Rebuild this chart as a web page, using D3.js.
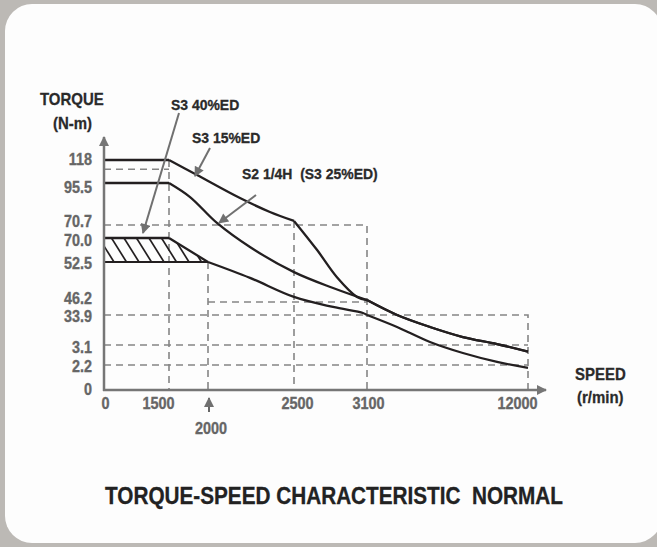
<!DOCTYPE html>
<html><head><meta charset="utf-8">
<script src="https://cdn.jsdelivr.net/npm/d3@7"></script>
<style>body{margin:0;background:#bcb9b5;} svg{display:block}</style>
</head><body><svg id="c" width="657" height="547"></svg>
<script>
// ---------- DATA ----------
const speedTicks = [0, 1500, 2500, 3100, 12000];
const speedMarker = 2000;
const torqueTicks = [0, 2.2, 3.1, 33.9, 46.2, 52.5, 70.0, 70.7, 95.5, 118];
const torqueTickLabels = ["0", "2.2", "3.1", "33.9", "46.2", "52.5", "70.0", "70.7", "95.5", "118"];

// S3 15%ED curve (speed r/min, torque N-m)
const s3_15 = [[0,118],[1500,118],[1860,103.3],[2186,86.6],[2360,78.4],[2500,73.1],[2690,61.2],[2853,50.1],[3018,47.0],[3100,46.5],[4760,33.9],[6580,21.6],[8400,11.3],[10290,4.1],[12000,2.8]];
const s3_15Corners = [1500, 2500, 3100];
// S2 1/4H (S3 25%ED)
const s2_quarter = [[0,95.5],[1500,95.5],[1770,87.2],[2052,71.9],[2244,63.4],[2500,50.9],[2821,48.4],[3100,46.5],[4760,33.9],[6580,21.6],[8400,11.3],[10290,4.1],[12000,2.8]];
const s2Corners = [1500, 3100];
// S3 40%ED
const s3_40 = [[0,70],[1500,70],[2000,52.5],[2244,50.0],[2500,47.0],[2821,41.5],[3067,35.8],[3100,33.9],[4760,21.6],[6580,6.2],[8400,2.74],[10290,2.34],[12000,1.94]];
const s3_40Corners = [1500, 2000, 3100];
// hatched (continuous) region
const hatchRegion = [[0,70],[1500,70],[2000,52.5],[0,52.5]];
// dashed guide lines
const guides = [
  [[0,109],[1500,109]],
  [[1500,118],[1500,0]],
  [[0,70.7],[3100,70.7],[3100,0]],
  [[2500,73.1],[2500,0]],
  [[2000,52.5],[2000,0]],
  [[2000,46.2],[3100,46.2]],
  [[0,33.9],[12000,33.9],[12000,0]],
  [[0,3.1],[12000,3.1]],
  [[0,2.2],[12000,2.2]]
];
const annotations = ["S3 40%ED", "S3 15%ED", "S2 1/4H  (S3 25%ED)"];
const chartTitle = "TORQUE-SPEED CHARACTERISTIC  NORMAL";

// ---------- LAYOUT ----------
const svg = d3.select("#c");
const FONT = "'Liberation Sans', Arial, sans-serif";
const axisCol = "#767676", guideCol = "#858585", curveCol = "#231f20", tickCol = "#666666", textCol = "#2a2a2a";

svg.append("rect").attr("width",657).attr("height",547).attr("fill","#bcb9b5");
svg.append("rect").attr("x",5).attr("y",4).attr("width",657).attr("height",539).attr("rx",27).attr("fill","#fdfdfd");

// piecewise (schematic) scales
const x = d3.scaleLinear().domain([0,1500,2000,2500,3100,12000]).range([104,169,208,294,367,528]);
const y = d3.scaleLinear().domain(torqueTicks).range([390,365,345,315,302,262,238,225,183,160]);

function condense(sel, f){
  sel.each(function(){ const L=this.getComputedTextLength(); d3.select(this).attr("textLength",L*f).attr("lengthAdjust","spacingAndGlyphs"); });
}

const defs = svg.append("defs");
function arrowMarker(id, col, w, h){
  defs.append("marker").attr("id",id).attr("viewBox","0 0 10 10").attr("refX",9).attr("refY",5)
    .attr("markerUnits","userSpaceOnUse").attr("markerWidth",w).attr("markerHeight",h).attr("orient","auto")
    .append("path").attr("d","M0,0L10,5L0,10Z").attr("fill",col);
}
arrowMarker("ah", "#707070", 12, 10);
arrowMarker("axh", axisCol, 12, 10);

// dashed guides
const lineGen = d3.line().x(d=>x(d[0])).y(d=>y(d[1]));
svg.append("g").selectAll("path").data(guides).join("path")
  .attr("d", lineGen).attr("fill","none").attr("stroke",guideCol).attr("stroke-width",1.6).attr("stroke-dasharray","7,5");

// hatched region
const clip = defs.append("clipPath").attr("id","hclip");
clip.append("path").attr("d", lineGen(hatchRegion)+"Z");
const hg = svg.append("g").attr("clip-path","url(#hclip)");
const hx0 = x(0)-30, hx1 = x(2000)+10, hTop = y(70), hBot = y(52.5);
for (let hx = hx0; hx < hx1; hx += 12.5){
  hg.append("line").attr("x1",hx).attr("y1",hTop).attr("x2",hx+15).attr("y2",hBot)
    .attr("stroke",curveCol).attr("stroke-width",1.7);
}
svg.append("path").attr("d", lineGen([hatchRegion[3],hatchRegion[2]])).attr("stroke",curveCol).attr("stroke-width",2.2).attr("fill","none");

// curves split at corners, smooth between
function drawCurve(data, corners){
  const pieces = []; let cur = [];
  data.forEach((p)=>{ cur.push(p); if (corners.includes(p[0])) { pieces.push(cur); cur=[p]; } });
  if (cur.length>1) pieces.push(cur);
  const g = d3.line().x(d=>x(d[0])).y(d=>y(d[1])).curve(d3.curveCatmullRom.alpha(0.5));
  svg.append("g").selectAll("path").data(pieces).join("path").attr("d", g)
    .attr("fill","none").attr("stroke",curveCol).attr("stroke-width",2.3).attr("stroke-linejoin","round");
}
drawCurve(s3_15, s3_15Corners);
drawCurve(s2_quarter, s2Corners);
drawCurve(s3_40, s3_40Corners);

// axes lines
svg.append("line").attr("x1",x(0)).attr("y1",y(0)+1).attr("x2",x(0)).attr("y2",137)
  .attr("stroke",axisCol).attr("stroke-width",2.5).attr("marker-end","url(#axh)");
svg.append("line").attr("x1",x(0)-1).attr("y1",y(0)).attr("x2",546).attr("y2",y(0))
  .attr("stroke",axisCol).attr("stroke-width",2.5).attr("marker-end","url(#axh)");

// y tick labels
const yNudge = {118:-2, 95.5:3, 70.7:-5, 70.0:1, 46.2:-5, 3.1:1, 0:-2};
const yAx = svg.append("g").attr("transform",`translate(${x(0)},0)`)
  .call(d3.axisLeft(y).tickValues(torqueTicks).tickSize(0).tickPadding(12).tickFormat((d,i)=>torqueTickLabels[i]));
yAx.select(".domain").remove();
yAx.selectAll("text").attr("font-family",FONT).attr("font-size",16.5).attr("font-weight","bold").attr("fill",tickCol)
  .attr("stroke",tickCol).attr("stroke-width",0.35)
  .attr("dy",d=>(yNudge[d]||0)+6).call(condense,0.87);

// x tick labels
const xNudge = {0:1, 1500:-11, 2500:3, 3100:1, 12000:-11};
const xAx = svg.append("g").attr("transform",`translate(0,${y(0)})`)
  .call(d3.axisBottom(x).tickValues(speedTicks).tickSize(0).tickPadding(7).tickFormat(d3.format("d")));
xAx.select(".domain").remove();
xAx.selectAll("text").attr("font-family",FONT).attr("font-size",17).attr("font-weight","bold").attr("fill",tickCol)
  .attr("stroke",tickCol).attr("stroke-width",0.35)
  .attr("dx",d=>xNudge[d]||0).call(condense,0.85);

// 2000 marker
svg.append("line").attr("x1",x(speedMarker)+1).attr("y1",412).attr("x2",x(speedMarker)+1).attr("y2",398)
  .attr("stroke",tickCol).attr("stroke-width",2).attr("marker-end","url(#ah)");
svg.append("text").attr("x",x(speedMarker)+3).attr("y",434).attr("text-anchor","middle")
  .attr("font-family",FONT).attr("font-size",17).attr("font-weight","bold").attr("fill",tickCol)
  .attr("stroke",tickCol).attr("stroke-width",0.35)
  .text(d3.format("d")(speedMarker)).call(condense,0.85);

// axis titles
function label(t, xx, yy, size, col, f, anchor){
  return svg.append("text").attr("x",xx).attr("y",yy).attr("text-anchor",anchor||"start")
    .attr("font-family",FONT).attr("font-size",size).attr("font-weight","bold").attr("fill",col)
    .attr("stroke",col).attr("stroke-width",0.3)
    .style("white-space","pre").text(t).call(condense,f);
}
label("TORQUE", 40, 105, 17, textCol, 0.88);
label("(N-m)", 53, 129, 17, textCol, 0.88);
label("SPEED", 575, 380, 17, textCol, 0.88);
label("(r/min)", 577, 403, 17, textCol, 0.88);

// annotations with arrows
label(annotations[0], 171, 110, 15, textCol, 0.93);
label(annotations[1], 192, 143, 15, textCol, 0.93);
label(annotations[2], 242, 179, 15, textCol, 0.93);
const arrows = [[[179,113],[143,233]], [[210,148],[195,176]], [[256,195],[219,223]]];
svg.append("g").selectAll("line").data(arrows).join("line")
  .attr("x1",d=>d[0][0]).attr("y1",d=>d[0][1]).attr("x2",d=>d[1][0]).attr("y2",d=>d[1][1])
  .attr("stroke","#707070").attr("stroke-width",2).attr("marker-end","url(#ah)");

// title
svg.append("text").attr("x",334).attr("y",504).attr("text-anchor","middle")
  .attr("font-family",FONT).attr("font-size",23).attr("font-weight","bold").attr("fill","#222")
  .attr("stroke","#222").attr("stroke-width",0.3)
  .style("white-space","pre").attr("textLength",458).attr("lengthAdjust","spacingAndGlyphs").text(chartTitle);
</script></body></html>
